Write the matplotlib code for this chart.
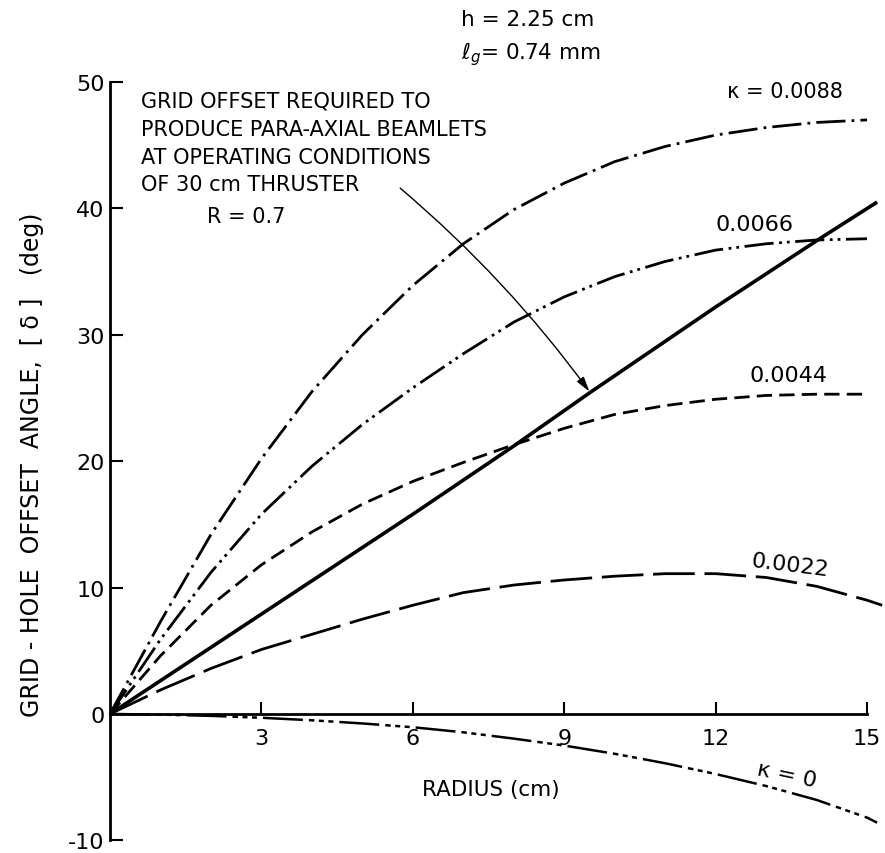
import matplotlib
matplotlib.use("Agg")
import matplotlib.pyplot as plt

plt.rcParams["font.family"] = ["DejaVu Sans"]

# --- data (radius in cm, offset angle in deg) ---
radius = [0, 1, 2, 3, 4, 5, 6, 7, 8, 9, 10, 11, 12, 13, 14, 15]

k_0088 = [0, 7.3, 14.2, 20.2, 25.5, 30.0, 33.9, 37.2, 39.9, 42.0, 43.7, 44.9, 45.8, 46.4, 46.8, 47.0]
k_0066 = [0, 5.9, 11.2, 15.8, 19.6, 22.9, 25.8, 28.5, 31.0, 33.0, 34.6, 35.8, 36.7, 37.2, 37.5, 37.6]
k_0044 = [0, 4.6, 8.6, 11.8, 14.4, 16.6, 18.4, 19.9, 21.3, 22.6, 23.7, 24.4, 24.9, 25.2, 25.3, 25.3]

radius_0022 = [0, 1, 2, 3, 4, 5, 6, 7, 8, 9, 10, 11, 12, 13, 14, 15, 15.3]
k_0022 = [0, 1.9, 3.6, 5.1, 6.3, 7.5, 8.6, 9.6, 10.2, 10.6, 10.9, 11.1, 11.1, 10.8, 10.1, 9.0, 8.6]

radius_k0 = [0, 1, 2, 3, 4, 5, 6, 7, 8, 9, 10, 11, 12, 13, 14, 15, 15.2]
k_0 = [0, -0.05, -0.15, -0.3, -0.5, -0.75, -1.05, -1.45, -1.95, -2.5, -3.15, -3.9, -4.75, -5.7, -6.8, -8.2, -8.6]

# required offset for para-axial beamlets, R = 0.7
radius_req = [0, 3, 6, 8, 9.5, 12, 14.1, 15.2]
offset_req = [0, 7.9, 15.8, 21.2, 25.4, 32.2, 37.7, 40.5]

x_ticks = [3, 6, 9, 12, 15]
y_ticks = [-10, 0, 10, 20, 30, 40, 50]

fig = plt.figure(figsize=(8.85, 8.54), dpi=100)
ax = fig.add_axes([0.1243, 0.0148, 0.8554, 0.888])

lw = 2.0
ax.plot(radius, k_0088, color="black", lw=lw, dashes=(10.5, 2.2, 1.0, 2.2), clip_on=False)
ax.plot(radius, k_0066, color="black", lw=lw, dashes=(10.5, 2.0, 1.0, 1.8, 1.0, 2.0), clip_on=False)
ax.plot(radius, k_0044, color="black", lw=lw, dashes=(5.5, 2.6), clip_on=False)
ax.plot(radius_0022, k_0022, color="black", lw=lw, dashes=(15, 3.5), clip_on=False)
ax.plot(radius_k0, k_0, color="black", lw=1.8, dashes=(16, 2.4, 2.2, 1.8, 2.0, 1.8, 2.0, 2.4), clip_on=False)
ax.plot(radius_req, offset_req, color="black", lw=2.6, solid_capstyle="butt", clip_on=False)

ax.set_xlim(0, 15)
ax.set_ylim(-10, 50)

for side in ("top", "right"):
    ax.spines[side].set_visible(False)
ax.spines["bottom"].set_position(("data", 0))
ax.spines["bottom"].set_bounds(0, 15)
ax.spines["left"].set_bounds(-10, 50)
for side in ("bottom", "left"):
    ax.spines[side].set_linewidth(2.0)

ax.set_xticks(x_ticks)
ax.set_xticklabels([str(v) for v in x_ticks])
ax.set_yticks(y_ticks)
ax.set_yticklabels([str(v) for v in y_ticks])
ax.tick_params(axis="x", direction="in", length=9, width=1.5, pad=10, labelsize=16)
ax.tick_params(axis="y", direction="in", length=9, width=1.5, pad=4, labelsize=16)

# --- curve labels ---
ax.text(13.37, 49.3, "\u03ba = 0.0088", fontsize=15, ha="center", va="center")
ax.text(12.77, 38.8, "0.0066", fontsize=16, ha="center", va="center")
ax.text(13.44, 26.8, "0.0044", fontsize=16, ha="center", va="center")
ax.text(13.47, 11.8, "0.0022", fontsize=16, ha="center", va="center", rotation=-7)
ax.text(13.4, -4.75, "\u03ba = 0", fontsize=16, ha="center", va="center", rotation=-12)

# --- parameters above the plot ---
ax.text(6.95, 55.0, "h = 2.25 cm", fontsize=15.5, ha="left", va="center", clip_on=False)
ax.text(6.95, 52.25, r"$\ell_g$= 0.74 mm", fontsize=15.5, ha="left", va="center", clip_on=False)

# --- annotation for the required-offset line ---
note = ["GRID OFFSET REQUIRED TO", "PRODUCE PARA-AXIAL BEAMLETS",
        "AT OPERATING CONDITIONS", "OF 30 cm THRUSTER"]
for i, line in enumerate(note):
    ax.text(0.61, 48.5 - 2.2 * i, line, fontsize=15, ha="left", va="center")
ax.text(1.92, 39.4, "R = 0.7", fontsize=15, ha="left", va="center")
ax.annotate("", xy=(9.5, 25.5), xytext=(5.75, 41.6),
            arrowprops=dict(arrowstyle="-|>,head_length=0.9,head_width=0.25",
                            color="black", lw=1.0, shrinkA=0, shrinkB=0,
                            connectionstyle="arc3,rad=-0.06"))

# --- axis titles ---
ax.text(7.54, -5.93, "RADIUS (cm)", fontsize=15.5, ha="center", va="center")
fig.text(0.036, 1 - 465 / 854, "GRID - HOLE  OFFSET  ANGLE,  [ \u03b4 ]   (deg)",
         fontsize=17, rotation=90, ha="center", va="center")

fig.savefig("out.png", dpi=100, facecolor="white")
